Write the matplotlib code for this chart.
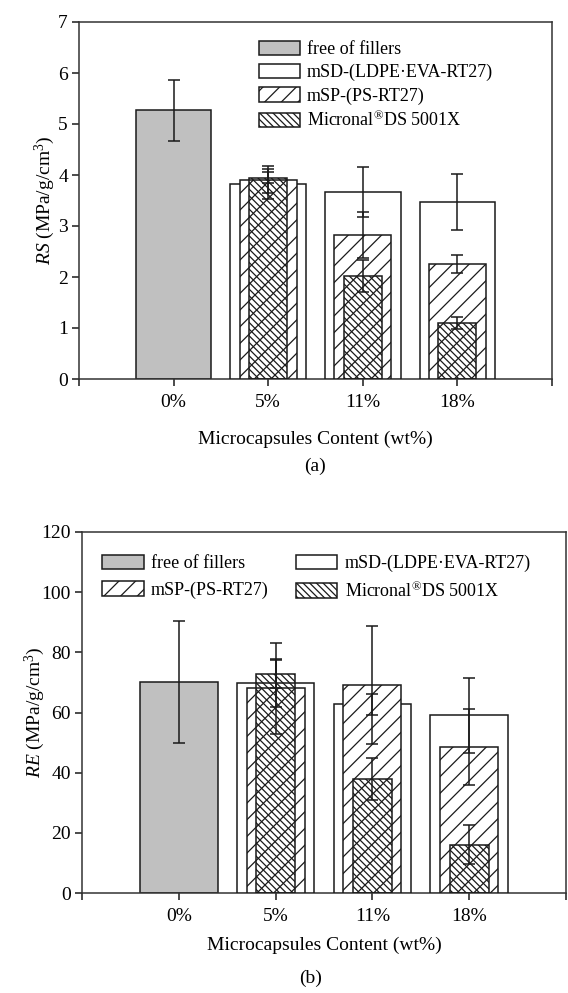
import matplotlib
matplotlib.use("Agg")
import matplotlib.pyplot as plt
import numpy as np

plt.rcParams['font.family'] = ['Liberation Serif', 'DejaVu Serif']
plt.rcParams['mathtext.fontset'] = 'custom'
plt.rcParams['mathtext.rm'] = 'Liberation Serif'
plt.rcParams['mathtext.it'] = 'Liberation Serif:italic'
plt.rcParams['hatch.linewidth'] = 0.9

# ---------------- data ----------------
categories = ['0%', '5%', '11%', '18%']
series_names = ['free of fillers', 'mSD-(LDPE\u00b7EVA-RT27)', 'mSP-(PS-RT27)',
                'Micronal$^{\u00ae}$DS 5001X']

# panel (a): RS (MPa/g/cm3)
rs_free = [5.27]
rs_free_err = [0.60]
rs_msd = [3.82, 3.67, 3.47]
rs_msd_err = [0.30, 0.49, 0.55]
rs_msp = [3.91, 2.83, 2.25]
rs_msp_err = [0.27, 0.45, 0.18]
rs_mic = [3.95, 2.02, 1.10]
rs_mic_err = [0.10, 0.32, 0.11]

# panel (b): RE (MPa/g/cm3)
re_free = [70.1]
re_free_err = [20.4]
re_msd = [69.7, 62.7, 59.1]
re_msd_err = [8.0, 3.6, 12.4]
re_msp = [68.0, 69.2, 48.5]
re_msp_err = [15.0, 19.7, 12.6]
re_mic = [72.9, 37.9, 16.1]
re_mic_err = [4.7, 7.0, 6.6]

EDGE = '#1a1a1a'
GRAY = '#c0c0c0'


def draw_panel(ax, free, free_err, msd, msd_err, msp, msp_err, mic, mic_err,
               ylim, yticks, ylabel, xlabelpad, ylabelpad):
    x0 = np.array([1])
    xs = np.array([2, 3, 4])
    ekw = dict(fmt='none', ecolor=EDGE, elinewidth=1.1, capsize=4, capthick=1.1, zorder=10)
    h1 = ax.bar(x0, free, width=0.8, color=GRAY, edgecolor=EDGE, linewidth=1.1, zorder=2)
    h2 = ax.bar(xs, msd, width=0.8, color='white', edgecolor=EDGE, linewidth=1.1, zorder=3)
    h3 = ax.bar(xs, msp, width=0.6, color='white', edgecolor=EDGE, linewidth=1.1,
                hatch='//', zorder=4)
    h4 = ax.bar(xs, mic, width=0.4, color='none', edgecolor=EDGE, linewidth=1.1,
                hatch='\\\\\\\\\\', zorder=5)
    ax.errorbar(x0, free, yerr=free_err, **ekw)
    ax.errorbar(xs, msd, yerr=msd_err, **ekw)
    ax.errorbar(xs, msp, yerr=msp_err, **ekw)
    ax.errorbar(xs, mic, yerr=mic_err, **ekw)
    ax.set_xlim(0, 5)
    ax.set_ylim(*ylim)
    ax.set_yticks(yticks)
    ax.set_xticks([0, 1, 2, 3, 4, 5])
    ax.set_xticklabels([''] + categories + [''])
    ax.tick_params(axis='both', direction='out', length=5, width=1.1, labelsize=14,
                   color=EDGE)
    ax.tick_params(axis='x', pad=6)
    ax.tick_params(axis='y', pad=3)
    for s in ax.spines.values():
        s.set_linewidth(1.1)
        s.set_color('#333333')
    ax.set_xlabel('Microcapsules Content (wt%)', fontsize=14, labelpad=xlabelpad)
    ax.set_ylabel(ylabel, fontsize=14, labelpad=ylabelpad)
    return [h1, h2, h3, h4]


fig = plt.figure(figsize=(5.68, 9.93), dpi=100)

ax1 = fig.add_axes([79 / 568, 1 - 379 / 993, 473 / 568, 357 / 993])
hs = draw_panel(ax1, rs_free, rs_free_err, rs_msd, rs_msd_err, rs_msp, rs_msp_err,
                rs_mic, rs_mic_err, (0, 7), range(0, 8),
                r'$\it{RS}$ (MPa/g/cm$^3$)', 14, 1)
ax1.legend(hs, series_names, loc='upper left', bbox_to_anchor=(0.38, 0.948),
           frameon=False, fontsize=13, handlelength=2.3, handleheight=0.85,
           labelspacing=0.33, handletextpad=0.35, borderpad=0, borderaxespad=0)
fig.text(315 / 568, 1 - 466 / 993, '(a)', ha='center', va='center', fontsize=14)

ax2 = fig.add_axes([82 / 568, 1 - 893 / 993, 484 / 568, 361 / 993])
hs = draw_panel(ax2, re_free, re_free_err, re_msd, re_msd_err, re_msp, re_msp_err,
                re_mic, re_mic_err, (0, 120), range(0, 121, 20),
                r'$\it{RE}$ (MPa/g/cm$^3$)', 8, -4)
# row-major order: free, mSD / mSP, Micronal
order = [0, 2, 1, 3]
ax2.legend([hs[i] for i in order], [series_names[i] for i in order],
           loc='upper left', bbox_to_anchor=(0.042, 0.937), ncol=2,
           frameon=False, fontsize=13, handlelength=2.3, handleheight=0.85,
           labelspacing=0.5, handletextpad=0.4, columnspacing=1.5,
           borderpad=0, borderaxespad=0)
fig.text(311 / 568, 1 - 978 / 993, '(b)', ha='center', va='center', fontsize=14)

fig.savefig('out.png', dpi=100)
